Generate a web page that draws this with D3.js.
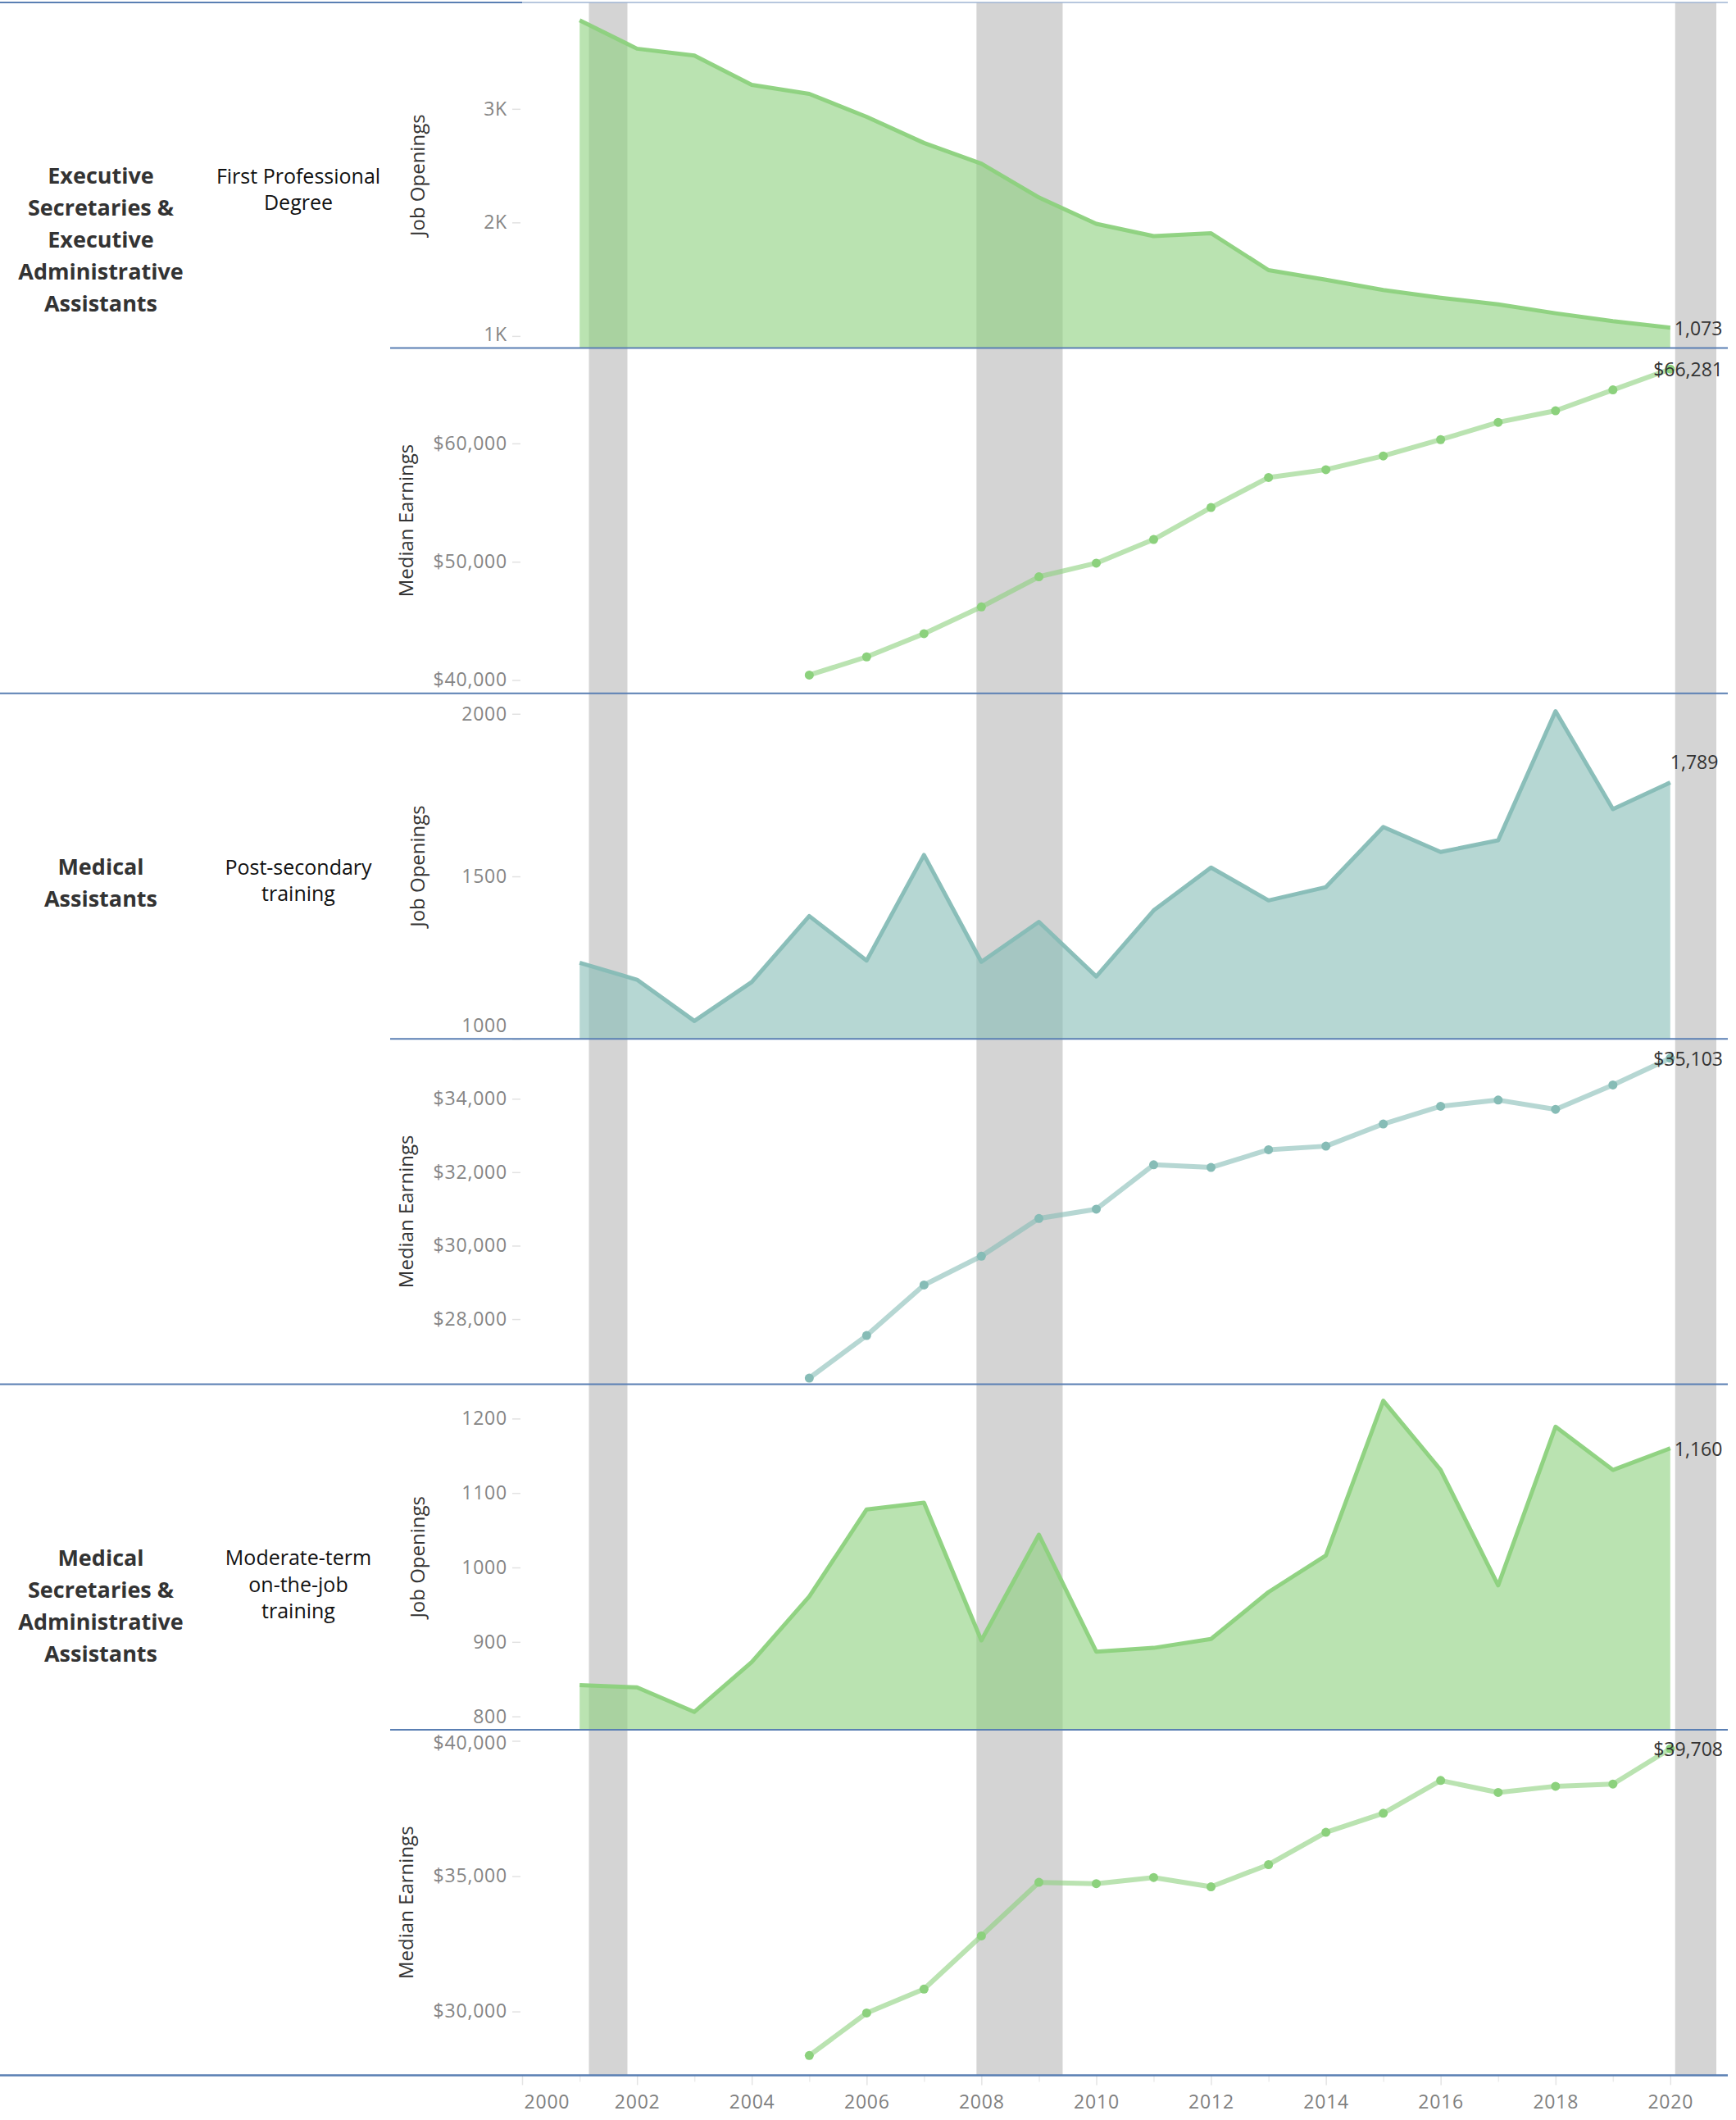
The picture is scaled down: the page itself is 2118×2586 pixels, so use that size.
<!DOCTYPE html>
<html>
<head>
<meta charset="utf-8">
<script src="https://cdn.jsdelivr.net/npm/d3@7"></script>
<style>
  html, body { margin: 0; padding: 0; background: #fff; }
  svg text { font-family: "Open Sans", sans-serif; }
</style>
</head>
<body>
<div id="chart"></div>
<script>
// ---- data ----
const jobYears  = [2001, 2002, 2003, 2004, 2005, 2006, 2007, 2008, 2009, 2010,
                   2011, 2012, 2013, 2014, 2015, 2016, 2017, 2018, 2019, 2020];
const earnYears = [2005, 2006, 2007, 2008, 2009, 2010, 2011, 2012,
                   2013, 2014, 2015, 2016, 2017, 2018, 2019, 2020];

const occupationLines = [
  ["Executive", "Secretaries &", "Executive", "Administrative", "Assistants"],
  ["Medical", "Assistants"],
  ["Medical", "Secretaries &", "Administrative", "Assistants"]
];
const educationLines = [
  ["First Professional", "Degree"],
  ["Post-secondary", "training"],
  ["Moderate-term", "on-the-job", "training"]
];

const execJobs = [3780, 3530, 3470, 3212, 3132, 2930, 2700, 2518, 2220, 1988,
                  1880, 1905, 1580, 1495, 1405, 1337, 1278, 1200, 1130, 1073];
const execEarn = [40420, 41960, 43920, 46180, 48730, 49880, 51880, 54580,
                  57120, 57780, 58940, 60320, 61780, 62760, 64520, 66281];

const medAsstJobs = [1234, 1182, 1055, 1175, 1378, 1241, 1566, 1237, 1360, 1192,
                     1395, 1527, 1426, 1467, 1652, 1575, 1611, 2008, 1707, 1789];
const medAsstEarn = [26394, 27553, 28929, 29714, 30740, 30994, 32201, 32129,
                     32612, 32708, 33312, 33795, 33964, 33710, 34374, 35103];

const medSecJobs = [842, 839, 806, 873, 961, 1078, 1087, 902, 1044, 887,
                    892, 904, 967, 1016, 1224, 1131, 976, 1189, 1131, 1160];
const medSecEarn = [28371, 29943, 30827, 32791, 34771, 34722, 34951, 34607,
                    35426, 36620, 37324, 38535, 38093, 38322, 38404, 39708];

// y axis ranges and ticks
const execJobsDomain    = [895, 3937];
const execEarnDomain    = [38874, 68068];
const medAsstJobsDomain = [1000, 2063];
const medAsstEarnDomain = [26225, 35630];
const medSecJobsDomain  = [782, 1246];
const medSecEarnDomain  = [27643, 40409];

const execJobsTicks    = [1000, 2000, 3000];
const execEarnTicks    = [40000, 50000, 60000];
const medAsstJobsTicks = [1000, 1500, 2000];
const medAsstEarnTicks = [28000, 30000, 32000, 34000];
const medSecJobsTicks  = [800, 900, 1000, 1100, 1200];
const medSecEarnTicks  = [30000, 35000, 40000];

// recession shading
const recessions = [
  ["2001-03-01", "2001-11-01"],
  ["2007-12-01", "2009-06-01"],
  ["2020-02-01", "2020-10-20"]
];

const xMajorYears = [2000, 2002, 2004, 2006, 2008, 2010, 2012, 2014, 2016, 2018, 2020];
const xMinorYears = [2001, 2003, 2005, 2007, 2009, 2011, 2013, 2015, 2017, 2019];

// ---- layout ----
const W = 2118, H = 2586;
const plotL = 637, plotR = 2108;
const top0 = 3, panelH = 421.4;
const green = "#8CD17D", teal = "#86BCB6";
const sepColor = "#5a7fb3";

const fmtK = d => (d / 1000) + "K";
const fmtPlain = d3.format("d");
const fmtDollar = d3.format("$,.0f");
const fmtComma = d3.format(",");

const panels = [
  {kind: "area", years: jobYears, values: execJobs, domain: execJobsDomain, ticks: execJobsTicks,
   tickFmt: fmtK, color: green, title: "Job Openings", labelFmt: fmtComma},
  {kind: "line", years: earnYears, values: execEarn, domain: execEarnDomain, ticks: execEarnTicks,
   tickFmt: fmtDollar, color: green, title: "Median Earnings", labelFmt: fmtDollar},
  {kind: "area", years: jobYears, values: medAsstJobs, domain: medAsstJobsDomain, ticks: medAsstJobsTicks,
   tickFmt: fmtPlain, color: teal, title: "Job Openings", labelFmt: fmtComma, labelAbove: true},
  {kind: "line", years: earnYears, values: medAsstEarn, domain: medAsstEarnDomain, ticks: medAsstEarnTicks,
   tickFmt: fmtDollar, color: teal, title: "Median Earnings", labelFmt: fmtDollar},
  {kind: "area", years: jobYears, values: medSecJobs, domain: medSecJobsDomain, ticks: medSecJobsTicks,
   tickFmt: fmtPlain, color: green, title: "Job Openings", labelFmt: fmtComma},
  {kind: "line", years: earnYears, values: medSecEarn, domain: medSecEarnDomain, ticks: medSecEarnTicks,
   tickFmt: fmtDollar, color: green, title: "Median Earnings", labelFmt: fmtDollar}
];

const svg = d3.select("#chart").append("svg")
  .attr("width", W).attr("height", H)
  .style("display", "block");

const x = d3.scaleTime()
  .domain([new Date(2000, 0, 1), new Date(2021, 0, 1)])
  .range([plotL, plotR]);
const yearDate = yr => new Date(yr, 0, 1);

const bottomY = top0 + panelH * panels.length;

// recession bands
svg.append("g").selectAll("rect")
  .data(recessions)
  .enter().append("rect")
  .attr("x", d => x(new Date(d[0])))
  .attr("width", d => x(new Date(d[1])) - x(new Date(d[0])))
  .attr("y", top0)
  .attr("height", bottomY - top0)
  .attr("fill", "#d4d4d4");

panels.forEach((p, i) => {
  const top = top0 + i * panelH;
  const bot = top + panelH;
  const y = d3.scaleLinear().domain(p.domain).range([bot, top]);
  const pts = p.years.map((yr, j) => ({year: yr, value: p.values[j]}));

  const clipId = "clip" + i;
  svg.append("clipPath").attr("id", clipId)
    .append("rect").attr("x", plotL).attr("y", top).attr("width", plotR - plotL).attr("height", panelH);
  const g = svg.append("g").attr("clip-path", "url(#" + clipId + ")");

  const line = d3.line().x(d => x(yearDate(d.year))).y(d => y(d.value));

  if (p.kind === "area") {
    const area = d3.area()
      .x(d => x(yearDate(d.year)))
      .y0(bot)
      .y1(d => y(d.value));
    g.append("path").datum(pts)
      .attr("d", area)
      .attr("fill", p.color)
      .attr("fill-opacity", 0.6);
    g.append("path").datum(pts)
      .attr("d", line)
      .attr("fill", "none")
      .attr("stroke", p.color)
      .attr("stroke-opacity", 0.95)
      .attr("stroke-width", 5)
      .attr("stroke-linejoin", "round");
  } else {
    g.append("path").datum(pts)
      .attr("d", line)
      .attr("fill", "none")
      .attr("stroke", p.color)
      .attr("stroke-opacity", 0.6)
      .attr("stroke-width", 6)
      .attr("stroke-linejoin", "round");
    g.selectAll("circle").data(pts)
      .enter().append("circle")
      .attr("cx", d => x(yearDate(d.year)))
      .attr("cy", d => y(d.value))
      .attr("r", 5.5)
      .attr("fill", p.color);
  }

  // y axis
  const axis = d3.axisLeft(y)
    .tickValues(p.ticks)
    .tickFormat(p.tickFmt)
    .tickSize(10)
    .tickPadding(6);
  const ag = svg.append("g")
    .attr("transform", "translate(" + (plotL - 2) + ",0)")
    .call(axis);
  ag.select(".domain").remove();
  ag.selectAll(".tick line").attr("stroke", "#e2e2e2").attr("stroke-width", 1.5);
  ag.selectAll(".tick text")
    .attr("fill", "#858585")
    .attr("font-size", 23)
    .attr("letter-spacing", 0.8)
    .attr("font-family", "Open Sans, sans-serif")
    .attr("y", d => {
      // keep labels inside the pane like Tableau does
      const yy = y(d);
      const lim = 16;
      if (yy > bot - lim) return (bot - lim) - yy;
      if (yy < top + lim) return (top + lim) - yy;
      return 0;
    });

  // axis title
  const tx = p.kind === "area" ? 508 : 494;
  svg.append("text")
    .attr("transform", "translate(" + tx + "," + (top + panelH / 2) + ") rotate(-90)")
    .attr("text-anchor", "middle")
    .attr("dominant-baseline", "central")
    .attr("font-size", 24)
    .attr("fill", "#333")
    .text(p.title);

  // last value label
  const last = pts[pts.length - 1];
  const lx = x(yearDate(last.year)), ly = y(last.value);
  const lab = svg.append("text")
    .attr("font-size", 23)
    .attr("fill", "#333")
    .attr("dominant-baseline", "central")
    .text(p.labelFmt(last.value));
  const lw = lab.node().getComputedTextLength();
  let labX = p.labelAbove ? lx : lx + 5;
  if (labX + lw > plotR - 6) labX = plotR - 6 - lw;
  lab.attr("x", labX).attr("y", p.labelAbove ? ly - 25 : ly);
});

// x axis
const xAxisG = svg.append("g").attr("transform", "translate(0," + bottomY + ")");
xAxisG.append("g")
  .call(d3.axisBottom(x).tickValues(xMinorYears.map(yearDate)).tickFormat("").tickSize(8))
  .call(s => s.select(".domain").remove())
  .selectAll(".tick line").attr("stroke", "#ececec").attr("stroke-width", 1.5);
const major = xAxisG.append("g")
  .call(d3.axisBottom(x).tickValues(xMajorYears.map(yearDate))
    .tickFormat(d3.timeFormat("%Y")).tickSize(12).tickPadding(12));
major.select(".domain").remove();
major.selectAll(".tick line").attr("stroke", "#e4e4e4").attr("stroke-width", 1.5);
major.selectAll(".tick text")
  .attr("fill", "#7f7f7f")
  .attr("font-size", 23)
  .attr("letter-spacing", 0.8)
  .attr("font-family", "Open Sans, sans-serif")
  .each(function(d) {
    const w = this.getComputedTextLength();
    const cx = x(d);
    if (cx - w / 2 < plotL + 2) d3.select(this).attr("x", plotL + 2 + w / 2 - cx);
  });

// row headers
occupationLines.forEach((lines, i) => {
  const top = top0 + i * 2 * panelH;
  svg.append("text")
    .attr("text-anchor", "middle")
    .attr("font-family", "Lato, sans-serif")
    .attr("font-weight", "bold")
    .attr("font-size", 27)
    .attr("fill", "#333")
    .selectAll("tspan").data(lines).enter().append("tspan")
    .attr("x", 123)
    .attr("y", (d, j) => top + 212 + j * 39)
    .attr("dy", "0.35em")
    .text(d => d);
});
educationLines.forEach((lines, i) => {
  const top = top0 + i * 2 * panelH;
  svg.append("text")
    .attr("text-anchor", "middle")
    .attr("font-family", "Lato, sans-serif")
    .attr("font-size", 25)
    .attr("fill", "#111")
    .selectAll("tspan").data(lines).enter().append("tspan")
    .attr("x", 364)
    .attr("y", (d, j) => top + 212 + j * 32.5)
    .attr("dy", "0.35em")
    .text(d => d);
});

// separators
const seps = svg.append("g");
panels.forEach((p, i) => {
  if (i === 0) return;
  const yy = top0 + i * panelH;
  seps.append("line")
    .attr("x1", i % 2 === 0 ? 0 : 476).attr("x2", plotR)
    .attr("y1", yy).attr("y2", yy)
    .attr("stroke", sepColor).attr("stroke-width", 2);
});
seps.append("line").attr("x1", 0).attr("x2", plotL).attr("y1", top0).attr("y2", top0)
  .attr("stroke", sepColor).attr("stroke-width", 2);
seps.append("line").attr("x1", plotL).attr("x2", plotR).attr("y1", top0).attr("y2", top0)
  .attr("stroke", "#9fb5d3").attr("stroke-width", 1.5);
seps.append("line").attr("x1", 0).attr("x2", plotR).attr("y1", bottomY).attr("y2", bottomY)
  .attr("stroke", sepColor).attr("stroke-width", 2.5);
</script>
</body>
</html>
